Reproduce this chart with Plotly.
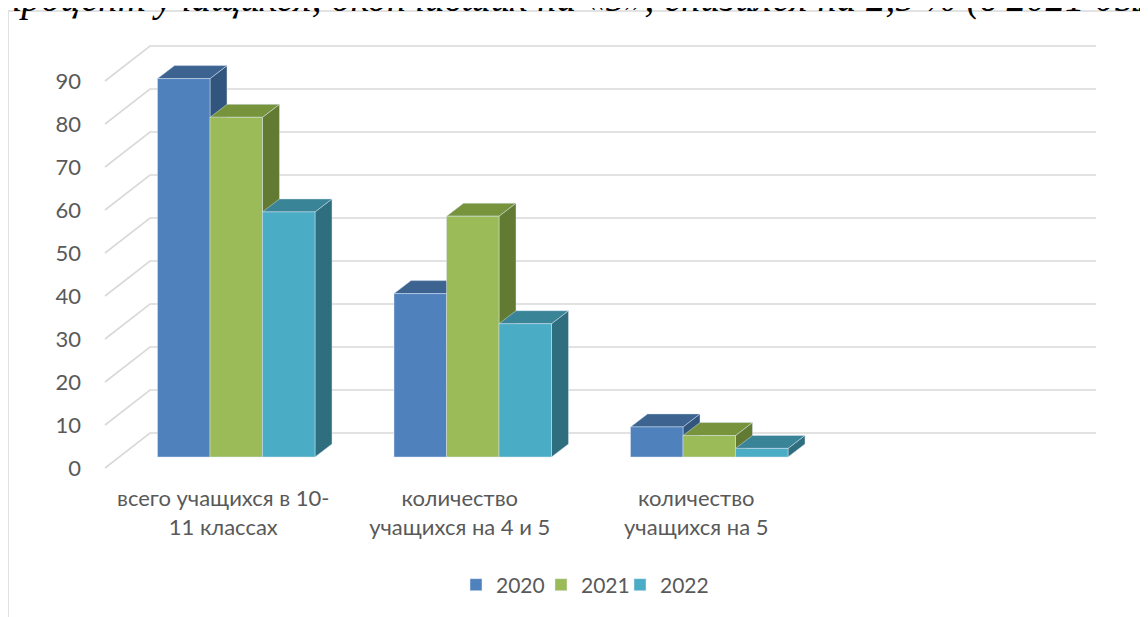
import plotly.graph_objects as go

# ---------------- data ----------------
categories = ["всего учащихся в 10-<br>11 классах",
              "количество<br>учащихся на 4 и 5",
              "количество<br>учащихся на 5",
              ""]
series_names = ["2020", "2021", "2022"]
values_2020 = [88, 38, 7]
values_2021 = [79, 56, 5]
values_2022 = [57, 31, 2]
y_ticks = [0, 10, 20, 30, 40, 50, 60, 70, 80, 90]
y_tick_labels = ["0", "10", "20", "30", "40", "50", "60", "70", "80", "90"]
top_text = "процент учащихся, окончивших на «5», снизился на 2,5 % (в 2021 был"

# ---------------- style ----------------
front_cols = ["#4F81BD", "#9BBB59", "#4BACC6"]
top_cols = ["#3D6491", "#77933C", "#3A8497"]
side_cols = ["#32557E", "#637A33", "#2F6E7F"]
grid_col = "#D9D9D9"
txt_col = "#595959"
FONT = "Lato, 'Noto Sans', sans-serif"

# page offset of the figure (browser body margin)
OFF = 8

# geometry (pixel scale of the oblique projection)
PX_PER_CAT = 236.5
PX_PER_VAL = 4.3
BAR_PLANE_X0 = 118   # page px of category origin on the bar plane
BAR_PLANE_Y0 = 457   # page px of value 0 on the bar plane
bar_w = 52.5 / PX_PER_CAT
bar_dx = 17 / PX_PER_CAT      # bar depth, horizontal
bar_dy = 13 / PX_PER_VAL      # bar depth, vertical
wall_dx = 32 / PX_PER_CAT     # back wall offset from bar plane
wall_dy = 24 / PX_PER_VAL
front_dx = -13 / PX_PER_CAT   # front floor edge offset
front_dy = -11 / PX_PER_VAL
n_slots = len(categories)

fig = go.Figure()

# ---- gridlines: left wall diagonals + back wall ----
gx, gy = [], []
for t in y_ticks:
    gx += [front_dx, wall_dx, n_slots + wall_dx, None]
    gy += [t + front_dy, t + wall_dy, t + wall_dy, None]
fig.add_trace(go.Scatter(x=gx, y=gy, mode="lines",
                         line=dict(color=grid_col, width=1.6),
                         hoverinfo="skip", showlegend=False))

# ---- bars (painter's order left to right) ----
all_vals = [values_2020, values_2021, values_2022]
n_series = len(all_vals)
edge = dict(color="rgba(220,230,242,0.8)", width=0.6)
for s, vals in enumerate(all_vals):
    fx, fy, tx, ty, sx, sy = [], [], [], [], [], []
    for i, v in enumerate(vals):
        x0 = i + 0.5 - n_series * bar_w / 2 + s * bar_w
        x1 = x0 + bar_w
        fx += [x0, x1, x1, x0, x0, None]
        fy += [0, 0, v, v, 0, None]
        tx += [x0, x1, x1 + bar_dx, x0 + bar_dx, x0, None]
        ty += [v, v, v + bar_dy, v + bar_dy, v, None]
        sx += [x1, x1 + bar_dx, x1 + bar_dx, x1, x1, None]
        sy += [0, bar_dy, v + bar_dy, v, 0, None]
    fig.add_trace(go.Scatter(x=sx, y=sy, fill="toself", fillcolor=side_cols[s],
                             mode="lines", line=edge, hoverinfo="skip", showlegend=False))
    fig.add_trace(go.Scatter(x=tx, y=ty, fill="toself", fillcolor=top_cols[s],
                             mode="lines", line=edge, hoverinfo="skip", showlegend=False))
    fig.add_trace(go.Scatter(x=fx, y=fy, fill="toself", fillcolor=front_cols[s],
                             mode="lines", line=edge, name=series_names[s],
                             hoverinfo="skip", showlegend=False))

# legend entries (one small legend per series so spacing can follow the original)
legend_ids = ["legend", "legend2", "legend3"]
for s in range(n_series):
    fig.add_trace(go.Bar(x=[None], y=[None], name=series_names[s],
                         marker=dict(color=front_cols[s]), showlegend=True,
                         legend=legend_ids[s]))

# ---- layout (plot area in page px: x 100..1100, y 40..470) ----
PA_L, PA_R, PA_T, PA_B = 100, 1100, 40, 470
W, H = 1148 - OFF, 617 - OFF
x_lo = (PA_L - BAR_PLANE_X0) / PX_PER_CAT
x_hi = (PA_R - BAR_PLANE_X0) / PX_PER_CAT
y_hi = (BAR_PLANE_Y0 - PA_T) / PX_PER_VAL
y_lo = (BAR_PLANE_Y0 - PA_B) / PX_PER_VAL


def px(p):
    return (p - PA_L) / (PA_R - PA_L)


def py(p):
    return (PA_B - p) / (PA_B - PA_T)


legend_square_x = [469, 554, 633]   # page px of the legend squares' left edges
legend_cfg = {}
for s, lid in enumerate(legend_ids):
    legend_cfg[lid] = dict(orientation="h", x=px(legend_square_x[s] - 13), xanchor="left",
                           y=py(585), yanchor="middle",
                           font=dict(size=21, color=txt_col, family=FONT),
                           itemwidth=30, bgcolor="rgba(0,0,0,0)")

fig.update_layout(
    width=W, height=H,
    margin=dict(l=PA_L - OFF, r=W - (PA_R - OFF), t=PA_T - OFF, b=H - (PA_B - OFF)),
    paper_bgcolor="white", plot_bgcolor="white",
    font=dict(family=FONT, color=txt_col, size=21),
    showlegend=True,
    xaxis=dict(range=[x_lo, x_hi], showgrid=False, zeroline=False, showline=False,
               tickmode="array",
               tickvals=[i + 0.5 + front_dx for i in range(n_slots)],
               ticktext=categories, ticks="", ticklabelstandoff=13,
               tickfont=dict(size=22, color=txt_col)),
    yaxis=dict(range=[y_lo, y_hi], showgrid=False, zeroline=False, showline=False,
               tickmode="array",
               tickvals=[t + front_dy for t in y_ticks],
               ticktext=y_tick_labels, ticks="", ticklabelstandoff=18,
               tickfont=dict(size=22, color=txt_col)),
    shapes=[dict(type="rect", xref="paper", yref="paper",
                 x0=px(8), x1=px(1200), y0=py(700), y1=py(11),
                 line=dict(color="#D9D9D9", width=1.5), fillcolor="rgba(0,0,0,0)",
                 layer="below")],
    annotations=[dict(text="<i>" + top_text + "</i>", xref="paper", yref="paper",
                      x=px(0), y=py(22), xanchor="left", yanchor="bottom",
                      showarrow=False,
                      font=dict(family="Liberation Serif, 'Times New Roman', serif",
                                size=39, color="black"))],
    **legend_cfg,
)

fig.write_html("out.html")
